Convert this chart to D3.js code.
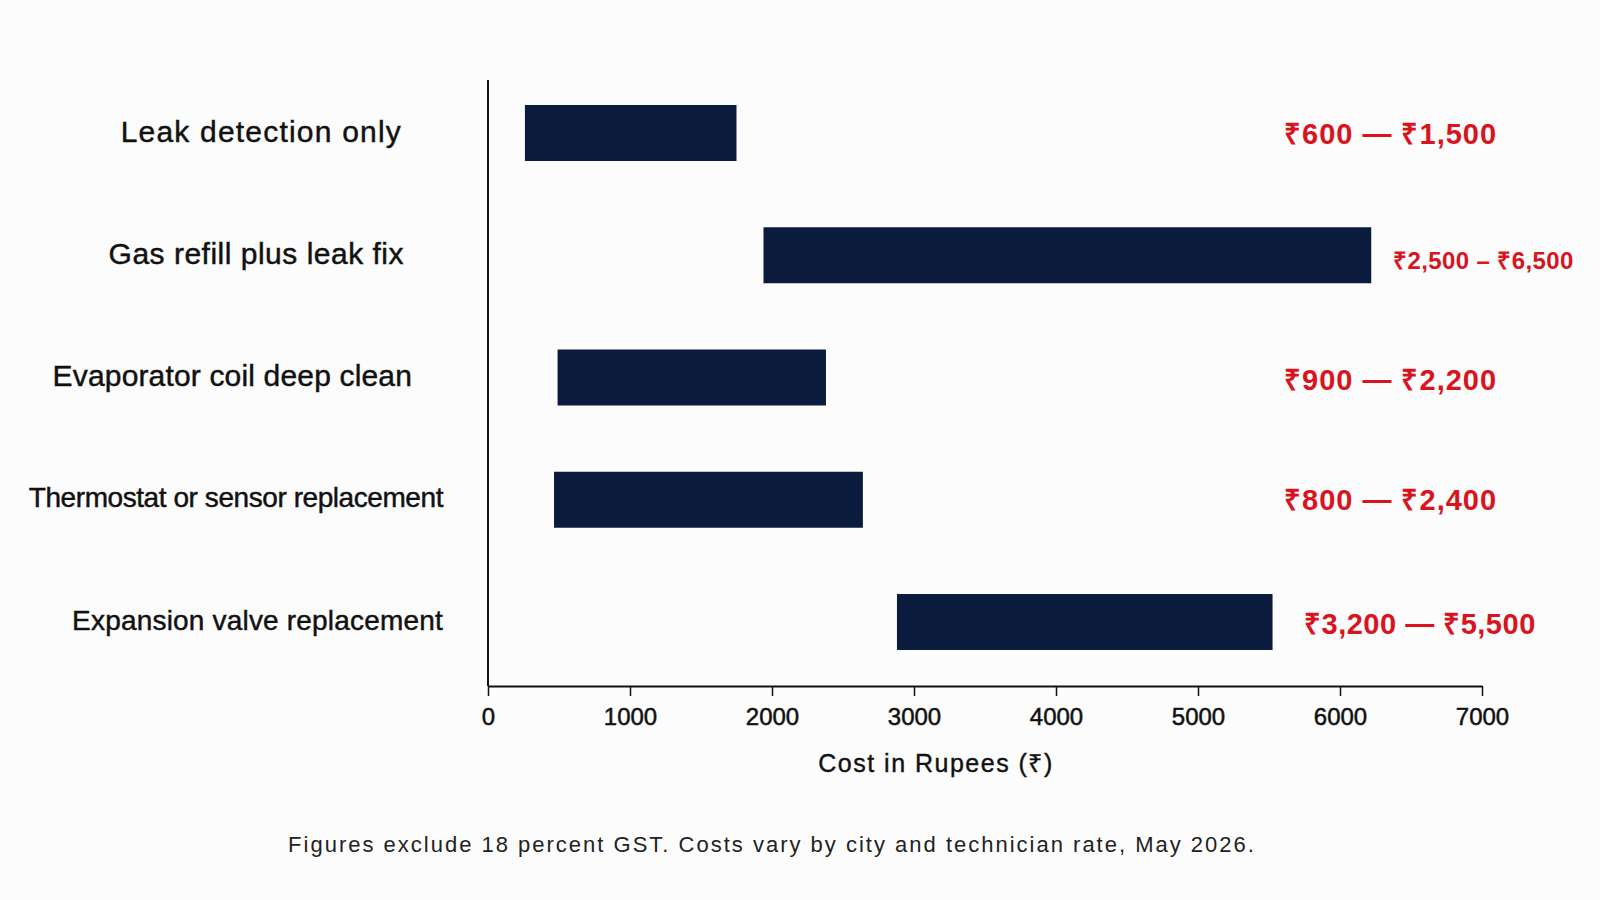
<!DOCTYPE html>
<html>
<head>
<meta charset="utf-8">
<script src="https://cdn.jsdelivr.net/npm/d3@7"></script>
<style>
  html, body { margin: 0; padding: 0; background: #fcfcfc; }
  svg { display: block; }
  text { font-family: "Liberation Sans", Arial, Helvetica, sans-serif; }
</style>
</head>
<body>
<svg id="chart" width="1600" height="900"></svg>
<script>
// ---- data ----
const categories = [
  "Leak detection only",
  "Gas refill plus leak fix",
  "Evaporator coil deep clean",
  "Thermostat or sensor replacement",
  "Expansion valve replacement"
];
const lowValues  = [260, 1940, 490, 465, 2880];
const highValues = [1750, 6220, 2380, 2640, 5525];
const rangeLabels = [
  "₹600 — ₹1,500",
  "₹2,500 – ₹6,500",
  "₹900 — ₹2,200",
  "₹800 — ₹2,400",
  "₹3,200 — ₹5,500"
];
const xTicks = [0, 1000, 2000, 3000, 4000, 5000, 6000, 7000];
const xTitle = "Cost in Rupees (₹)";
const footnote = "Figures exclude 18 percent GST. Costs vary by city and technician rate, May 2026.";

// ---- layout / style (kept separate from data) ----
const labelRight = [402, 404, 412, 443, 443];
const labelSize = [30, 30, 30, 28, 28];
const labelSpacing = [1.2, 0.5, 0.16, -0.43, 0.19];
const rangeX = [1284, 1393, 1284, 1284, 1304];
const rangeSize = [29, 24, 29, 29, 29];
const rangeSpacing = [1, 0.4, 1, 1, 0.5];
const rangeDy = [1, 5, 2, 0, 2];

const barColor = "#0b1b3d";
const red = "#d8141f";
const ink = "#111";

const svg = d3.select("#chart");
const x = d3.scaleLinear().domain([0, 7000]).range([488, 1482]);
const y = d3.scalePoint().domain(categories).range([133, 622]);
const barH = 56;

// bars
svg.append("g").selectAll("rect")
  .data(categories)
  .join("rect")
  .attr("x", (d, i) => x(lowValues[i]))
  .attr("y", d => y(d) - barH / 2)
  .attr("width", (d, i) => x(highValues[i]) - x(lowValues[i]))
  .attr("height", barH)
  .attr("fill", barColor);

// y axis line
svg.append("line")
  .attr("x1", x(0)).attr("x2", x(0))
  .attr("y1", 80).attr("y2", 686)
  .attr("stroke", ink).attr("stroke-width", 2);

// x axis
const xAxis = d3.axisBottom(x).tickValues(xTicks).tickFormat(d3.format("d")).tickSize(10).tickSizeOuter(0).tickPadding(12);
const gx = svg.append("g").attr("transform", "translate(0,686)").call(xAxis);
gx.select(".domain").attr("stroke", ink).attr("stroke-width", 2);
gx.selectAll(".tick line").attr("stroke", ink).attr("stroke-width", 1.5);
gx.selectAll(".tick text")
  .attr("fill", ink)
  .attr("stroke", ink)
  .attr("stroke-width", 0.5)
  .style("font-family", '"Liberation Sans", Arial, sans-serif')
  .style("font-size", "24px")
  .style("font-weight", "normal");

// x title
svg.append("text")
  .attr("x", 936).attr("y", 763)
  .attr("text-anchor", "middle")
  .attr("dominant-baseline", "central")
  .style("font-size", "25px")
  .style("letter-spacing", "1.5px")
  .attr("fill", ink)
  .attr("stroke", ink)
  .attr("stroke-width", 0.4)
  .text(xTitle);

// category labels
svg.append("g").selectAll("text")
  .data(categories)
  .join("text")
  .attr("x", (d, i) => labelRight[i])
  .attr("y", d => y(d) - 2)
  .attr("text-anchor", "end")
  .attr("dominant-baseline", "central")
  .style("font-size", (d, i) => labelSize[i] + "px")
  .style("letter-spacing", (d, i) => labelSpacing[i] + "px")
  .attr("fill", ink)
  .attr("stroke", ink)
  .attr("stroke-width", 0.45)
  .text(d => d);

// range labels
svg.append("g").selectAll("text")
  .data(rangeLabels)
  .join("text")
  .attr("x", (d, i) => rangeX[i])
  .attr("y", (d, i) => y(categories[i]) + rangeDy[i])
  .attr("dominant-baseline", "central")
  .style("font-size", (d, i) => rangeSize[i] + "px")
  .style("letter-spacing", (d, i) => rangeSpacing[i] + "px")
  .style("font-weight", "bold")
  .attr("fill", red)
  .text(d => d);

// footnote
svg.append("text")
  .attr("x", 772).attr("y", 844)
  .attr("text-anchor", "middle")
  .attr("dominant-baseline", "central")
  .style("font-size", "22px")
  .style("letter-spacing", "2px")
  .attr("fill", "#222")
  .text(footnote);
</script>
</body>
</html>
